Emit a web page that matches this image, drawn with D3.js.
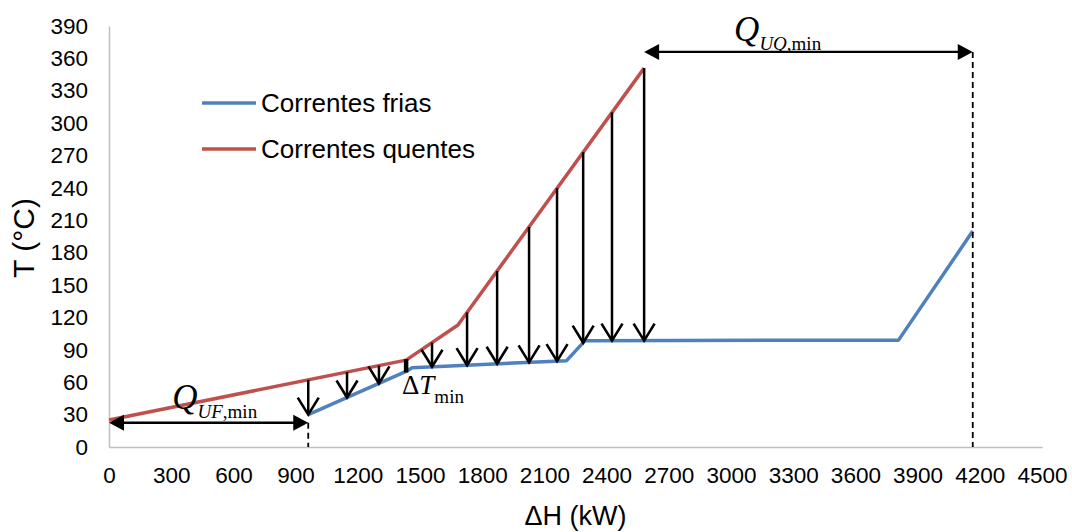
<!DOCTYPE html>
<html>
<head>
<meta charset="utf-8">
<script src="https://cdn.jsdelivr.net/npm/d3@7"></script>
<style>
  body { margin: 0; background: #fff; }
  svg { font-family: Arial, "Liberation Sans", sans-serif; }
</style>
</head>
<body>
<svg id="chart" width="1072" height="532"></svg>
<script>
// curva composta fria
const coldH = [961, 1433, 1462, 2207, 2296, 3808, 4166];
const coldT = [30, 70, 73.5, 80, 98.5, 99, 200];
// curva composta quente
const hotH = [0, 1433, 1683, 2581];
const hotT = [25, 80.5, 113, 351];
// setas verticais (troca de calor)
const arrowH = [961, 1148, 1302, 1558, 1727, 1872, 2026, 2161, 2287, 2426, 2581];
const dTminH = 1433;
const xTicks = d3.range(0, 4501, 300);
const yTicks = d3.range(0, 391, 30);
const series = [
  { name: "Correntes frias", H: coldH, T: coldT, color: "#4F81BD" },
  { name: "Correntes quentes", H: hotH, T: hotT, color: "#C0504D" }
];

const svg = d3.select("#chart");
const x = d3.scaleLinear().domain([0, 4500]).range([109, 1042]);
const y = d3.scaleLinear().domain([0, 390]).range([447, 26]);

// eixos
const xAxis = svg.append("g")
  .attr("transform", `translate(0,${y(0)})`)
  .call(d3.axisBottom(x).tickValues(xTicks).tickSize(0).tickPadding(20).tickFormat(d3.format("d")));
const yAxis = svg.append("g")
  .attr("transform", `translate(${x(0)},0)`)
  .call(d3.axisLeft(y).tickValues(yTicks).tickSize(0).tickPadding(21).tickFormat(d3.format("d")));
[xAxis, yAxis].forEach(a => {
  a.select(".domain").attr("stroke", "#bfbfbf").attr("stroke-width", 1.5);
  a.selectAll("text").style("font-size", "22.5px").style("fill", "#000")
    .style("font-family", "Arial, 'Liberation Sans', sans-serif");
});

svg.append("text")
  .attr("x", (x(0) + x(4500)) / 2).attr("y", 525)
  .attr("text-anchor", "middle")
  .style("font-size", "27px")
  .text("\u0394H (kW)");
svg.append("text")
  .attr("transform", `translate(34,${238}) rotate(-90)`)
  .attr("text-anchor", "middle")
  .style("font-size", "30px")
  .text("T (\u00B0C)");

// linhas
const line = d3.line().x(d => x(d[0])).y(d => y(d[1]));
series.forEach(s => {
  svg.append("path")
    .datum(s.H.map((h, i) => [h, s.T[i]]))
    .attr("d", line)
    .attr("fill", "none")
    .attr("stroke", s.color)
    .attr("stroke-width", 3.5)
    .attr("stroke-linejoin", "round");
});

function tAt(H, T, h) {
  for (let i = 0; i < H.length - 1; i++) {
    if (h >= H[i] && h <= H[i + 1]) {
      return T[i] + (T[i + 1] - T[i]) * (h - H[i]) / (H[i + 1] - H[i]);
    }
  }
  return h < H[0] ? T[0] : T[T.length - 1];
}

// setas verticais
arrowH.forEach(h => {
  const px = x(h);
  const y1 = y(tAt(hotH, hotT, h));
  const y2 = y(tAt(coldH, coldT, h));
  svg.append("line")
    .attr("x1", px).attr("x2", px).attr("y1", y1).attr("y2", y2)
    .attr("stroke", "#000").attr("stroke-width", 2.5);
  svg.append("path")
    .attr("d", `M${px - 10.5},${y2 - 17}L${px},${y2}L${px + 10.5},${y2 - 17}`)
    .attr("fill", "none").attr("stroke", "#000").attr("stroke-width", 2.6);
});

// marca do ΔTmin
svg.append("line")
  .attr("x1", x(dTminH)).attr("x2", x(dTminH))
  .attr("y1", y(tAt(hotH, hotT, dTminH)) - 1)
  .attr("y2", y(tAt(coldH, coldT, dTminH)) + 1)
  .attr("stroke", "#000").attr("stroke-width", 4.5);

// setas duplas Q
function dblArrow(h1, h2, t) {
  const a = x(h1), b = x(h2), py = y(t);
  svg.append("line").attr("x1", a + 10).attr("x2", b - 10).attr("y1", py).attr("y2", py)
    .attr("stroke", "#000").attr("stroke-width", 2.4);
  svg.append("path").attr("d", `M${a},${py}L${a + 15},${py - 8}L${a + 15},${py + 8}Z`).attr("fill", "#000");
  svg.append("path").attr("d", `M${b},${py}L${b - 15},${py - 8}L${b - 15},${py + 8}Z`).attr("fill", "#000");
}
function dashed(h, t) {
  svg.append("line").attr("x1", x(h)).attr("x2", x(h)).attr("y1", y(t)).attr("y2", y(0))
    .attr("stroke", "#000").attr("stroke-width", 1.8).attr("stroke-dasharray", "6,4");
}
dblArrow(0, coldH[0], 22.5);
dashed(coldH[0], 22.5);
dblArrow(hotH[hotH.length - 1], coldH[coldH.length - 1], 366);
dashed(coldH[coldH.length - 1], 366);

// rótulos
function label(h, t, big, sub1, sub2, size) {
  const txt = svg.append("text")
    .attr("x", x(h)).attr("y", y(t))
    .style("font-family", "'Liberation Serif', 'Times New Roman', serif");
  txt.append("tspan").style("font-size", size + "px").style("font-style", "italic").text(big);
  txt.append("tspan").attr("dy", 9).style("font-size", "19px").style("font-style", "italic").text(sub1);
  txt.append("tspan").style("font-size", "19px").text(sub2);
}
label(305, 35, "Q", "UF", ",min", 35);
label(3015, 376, "Q", "UQ", ",min", 35);

const dt = svg.append("text")
  .attr("x", x(1413)).attr("y", y(49))
  .style("font-family", "'Liberation Serif', 'Times New Roman', serif");
dt.append("tspan").style("font-size", "27px").text("\u0394");
dt.append("tspan").style("font-size", "27px").style("font-style", "italic").text("T");
dt.append("tspan").attr("dy", 9).style("font-size", "19px").text("min");

// legenda
const leg = svg.append("g");
series.forEach((s, i) => {
  const ly = 103 + i * 46;
  leg.append("line").attr("x1", 202).attr("x2", 256).attr("y1", ly).attr("y2", ly)
    .attr("stroke", s.color).attr("stroke-width", 3.5);
  leg.append("text").attr("x", 261).attr("y", ly + 9)
    .style("font-size", "26px").text(s.name);
});
</script>
</body>
</html>
